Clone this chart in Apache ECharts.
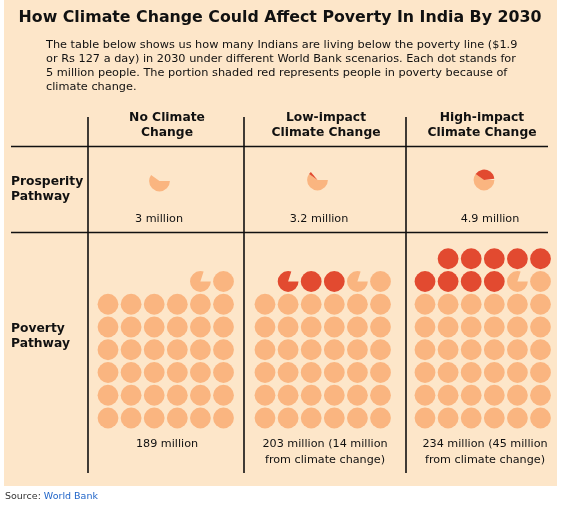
<!DOCTYPE html>
<html>
<head>
<meta charset="utf-8">
<script src="https://cdn.jsdelivr.net/npm/echarts@6/dist/echarts.min.js"></script>
<style>
html,body{margin:0;padding:0;background:#ffffff;}
#main{width:562px;height:507px;}
</style>
</head>
<body>
<div id="main"></div>
<script>
// ---- data ----
const titleText = 'How Climate Change Could Affect Poverty In India By 2030';
const subtitleLines = [
  'The table below shows us how many Indians are living below the poverty line ($1.9',
  'or Rs 127 a day) in 2030 under different World Bank scenarios. Each dot stands for',
  '5 million people. The portion shaded red represents people in poverty because of',
  'climate change.'
];
const scenarios = ['No Climate\nChange', 'Low-impact\nClimate Change', 'High-impact\nClimate Change'];
const pathways = ['Prosperity\nPathway', 'Poverty\nPathway'];
const prosperityTotal = [3, 3.2, 4.9];      // million people
const prosperityClimate = [0, 0.2, 1.9];    // of which due to climate change
const povertyTotal = [189, 203, 234];
const povertyClimate = [0, 14, 45];
const millionsPerDot = 5;
const dotsPerRow = 6;

// ---- style ----
const FONT = 'DejaVu Sans';
const BG = '#fde6c9';
const LIGHT = '#fab580';
const RED = '#e24a30';
const INK = '#111111';
const R = 10.4;

// Dot layout: fill rows bottom-up, each row right-to-left.
function layoutDots(total, climate) {
  const base = total - climate;
  const out = [];
  const share = total / millionsPerDot <= 1;
  let idx = 0;
  function put(i, s, e, kind) {
    out.push([dotsPerRow - 1 - (i % dotsPerRow), Math.floor(i / dotsPerRow), s, e, kind]);
  }
  let b = base / millionsPerDot;
  const bFull = Math.floor(b + 1e-9);
  const bFrac = b - bFull;
  for (let i = 0; i < bFull; i++) put(idx++, 0, 1, 0);
  let carry = 0;
  if (bFrac > 1e-6) {
    put(idx, 0, bFrac, 0);
    if (share) { carry = bFrac; } else { idx++; }
  }
  let c = climate / millionsPerDot;
  if (c > 1e-6) {
    if (share) { put(idx, carry, carry + c, 1); }
    else {
      const cFull = Math.floor(c + 1e-9);
      const cFrac = c - cFull;
      for (let i = 0; i < cFull; i++) put(idx++, 0, 1, 1);
      if (cFrac > 1e-6) put(idx++, 0, cFrac, 1);
    }
  }
  return out;
}

const chart = echarts.init(document.getElementById('main'), null, {renderer: 'canvas'});

// grid geometry (layout)
const prosCenters = [[159.5, 181], [317.5, 180], [484, 180]];
const povLeft = [108, 265, 425];
const colStep = 23.1, rowStep = 22.75, povBottom = 418;

const grids = [], xAxes = [], yAxes = [], series = [];
function renderItem(params, api) {
  const p = api.coord([api.value(0), api.value(1)]);
  const s = api.value(2), e = api.value(3), k = api.value(4);
  return {
    type: 'sector',
    shape: {cx: p[0], cy: p[1], r: R, r0: 0, startAngle: s * Math.PI * 2, endAngle: e * Math.PI * 2, clockwise: true},
    style: {fill: k ? RED : LIGHT}
  };
}
scenarios.forEach((sc, i) => {
  // prosperity cell
  grids.push({left: prosCenters[i][0] - 10, top: prosCenters[i][1] - 10, width: 20, height: 20});
  xAxes.push({type: 'value', gridIndex: grids.length - 1, min: -1, max: 1, show: false});
  yAxes.push({type: 'value', gridIndex: grids.length - 1, min: -1, max: 1, show: false});
  series.push({type: 'custom', xAxisIndex: grids.length - 1, yAxisIndex: grids.length - 1,
    renderItem, clip: false, silent: true,
    data: layoutDots(prosperityTotal[i], prosperityClimate[i]).map(d => [d[0] - (dotsPerRow - 1), d[1], d[2], d[3], d[4]])});
  // poverty cell
  grids.push({left: povLeft[i], top: povBottom - 7 * rowStep, width: 5 * colStep, height: 7 * rowStep});
  xAxes.push({type: 'value', gridIndex: grids.length - 1, min: 0, max: dotsPerRow - 1, show: false});
  yAxes.push({type: 'value', gridIndex: grids.length - 1, min: 0, max: 7, show: false});
  series.push({type: 'custom', xAxisIndex: grids.length - 1, yAxisIndex: grids.length - 1,
    renderItem, clip: false, silent: true,
    data: layoutDots(povertyTotal[i], povertyClimate[i])});
});

const colCenters = [167, 326, 482];
const g = [];
g.push({type: 'rect', shape: {x: 4, y: 0, width: 553, height: 486}, style: {fill: BG}, z: -10});
g.push({type: 'text', x: 280, y: 18, style: {text: titleText, font: 'bold 15.8px "' + FONT + '"', fill: INK, align: 'center', verticalAlign: 'middle'}});
subtitleLines.forEach((t, i) => {
  g.push({type: 'text', x: 46, y: 45 + i * 14, style: {text: t, font: '11.3px "' + FONT + '"', fill: INK, align: 'left', verticalAlign: 'middle'}});
});
// table lines
const lineStyle = {stroke: INK, lineWidth: 1.6};
[146.5, 232.5].forEach(y => g.push({type: 'line', shape: {x1: 11, y1: y, x2: 548, y2: y}, style: lineStyle}));
[88, 244, 406].forEach(x => g.push({type: 'line', shape: {x1: x, y1: 117, x2: x, y2: 473}, style: lineStyle}));
// headers
scenarios.forEach((sc, i) => {
  g.push({type: 'text', x: colCenters[i], y: 125.5, style: {text: sc, font: 'bold 12.3px "' + FONT + '"', fill: INK, align: 'center', verticalAlign: 'middle', lineHeight: 15}});
});
const rowLabelY = [189.5, 336.5];
pathways.forEach((p, i) => {
  g.push({type: 'text', x: 11, y: rowLabelY[i], style: {text: p, font: 'bold 12.3px "' + FONT + '"', fill: INK, align: 'left', verticalAlign: 'middle', lineHeight: 15}});
});
// value labels
const prosLabelX = [159, 319, 490];
prosperityTotal.forEach((v, i) => {
  g.push({type: 'text', x: prosLabelX[i], y: 219, style: {text: v + ' million', font: '11.2px "' + FONT + '"', fill: INK, align: 'center', verticalAlign: 'middle'}});
});
const povLabelX = [167, 325, 485];
povertyTotal.forEach((v, i) => {
  const c = povertyClimate[i];
  const t = c > 0 ? v + ' million (' + c + ' million\nfrom climate change)' : v + ' million';
  g.push({type: 'text', x: povLabelX[i], y: 443, style: {text: t, font: '11.2px "' + FONT + '"', fill: INK, align: 'center', verticalAlign: 'top', lineHeight: 16, y: -7}});
});
// source
g.push({type: 'text', x: 5, y: 497, style: {text: '{a|Source: }{b|World Bank}', font: '9.5px "' + FONT + '"', verticalAlign: 'middle', align: 'left',
  rich: {a: {fill: '#333333', font: '9.5px "' + FONT + '"'}, b: {fill: '#1f64c8', font: '9.5px "' + FONT + '"'}}}});

chart.setOption({
  backgroundColor: '#ffffff',
  animation: false,
  grid: grids,
  xAxis: xAxes,
  yAxis: yAxes,
  series: series,
  graphic: {elements: g}
});
</script>
</body>
</html>
